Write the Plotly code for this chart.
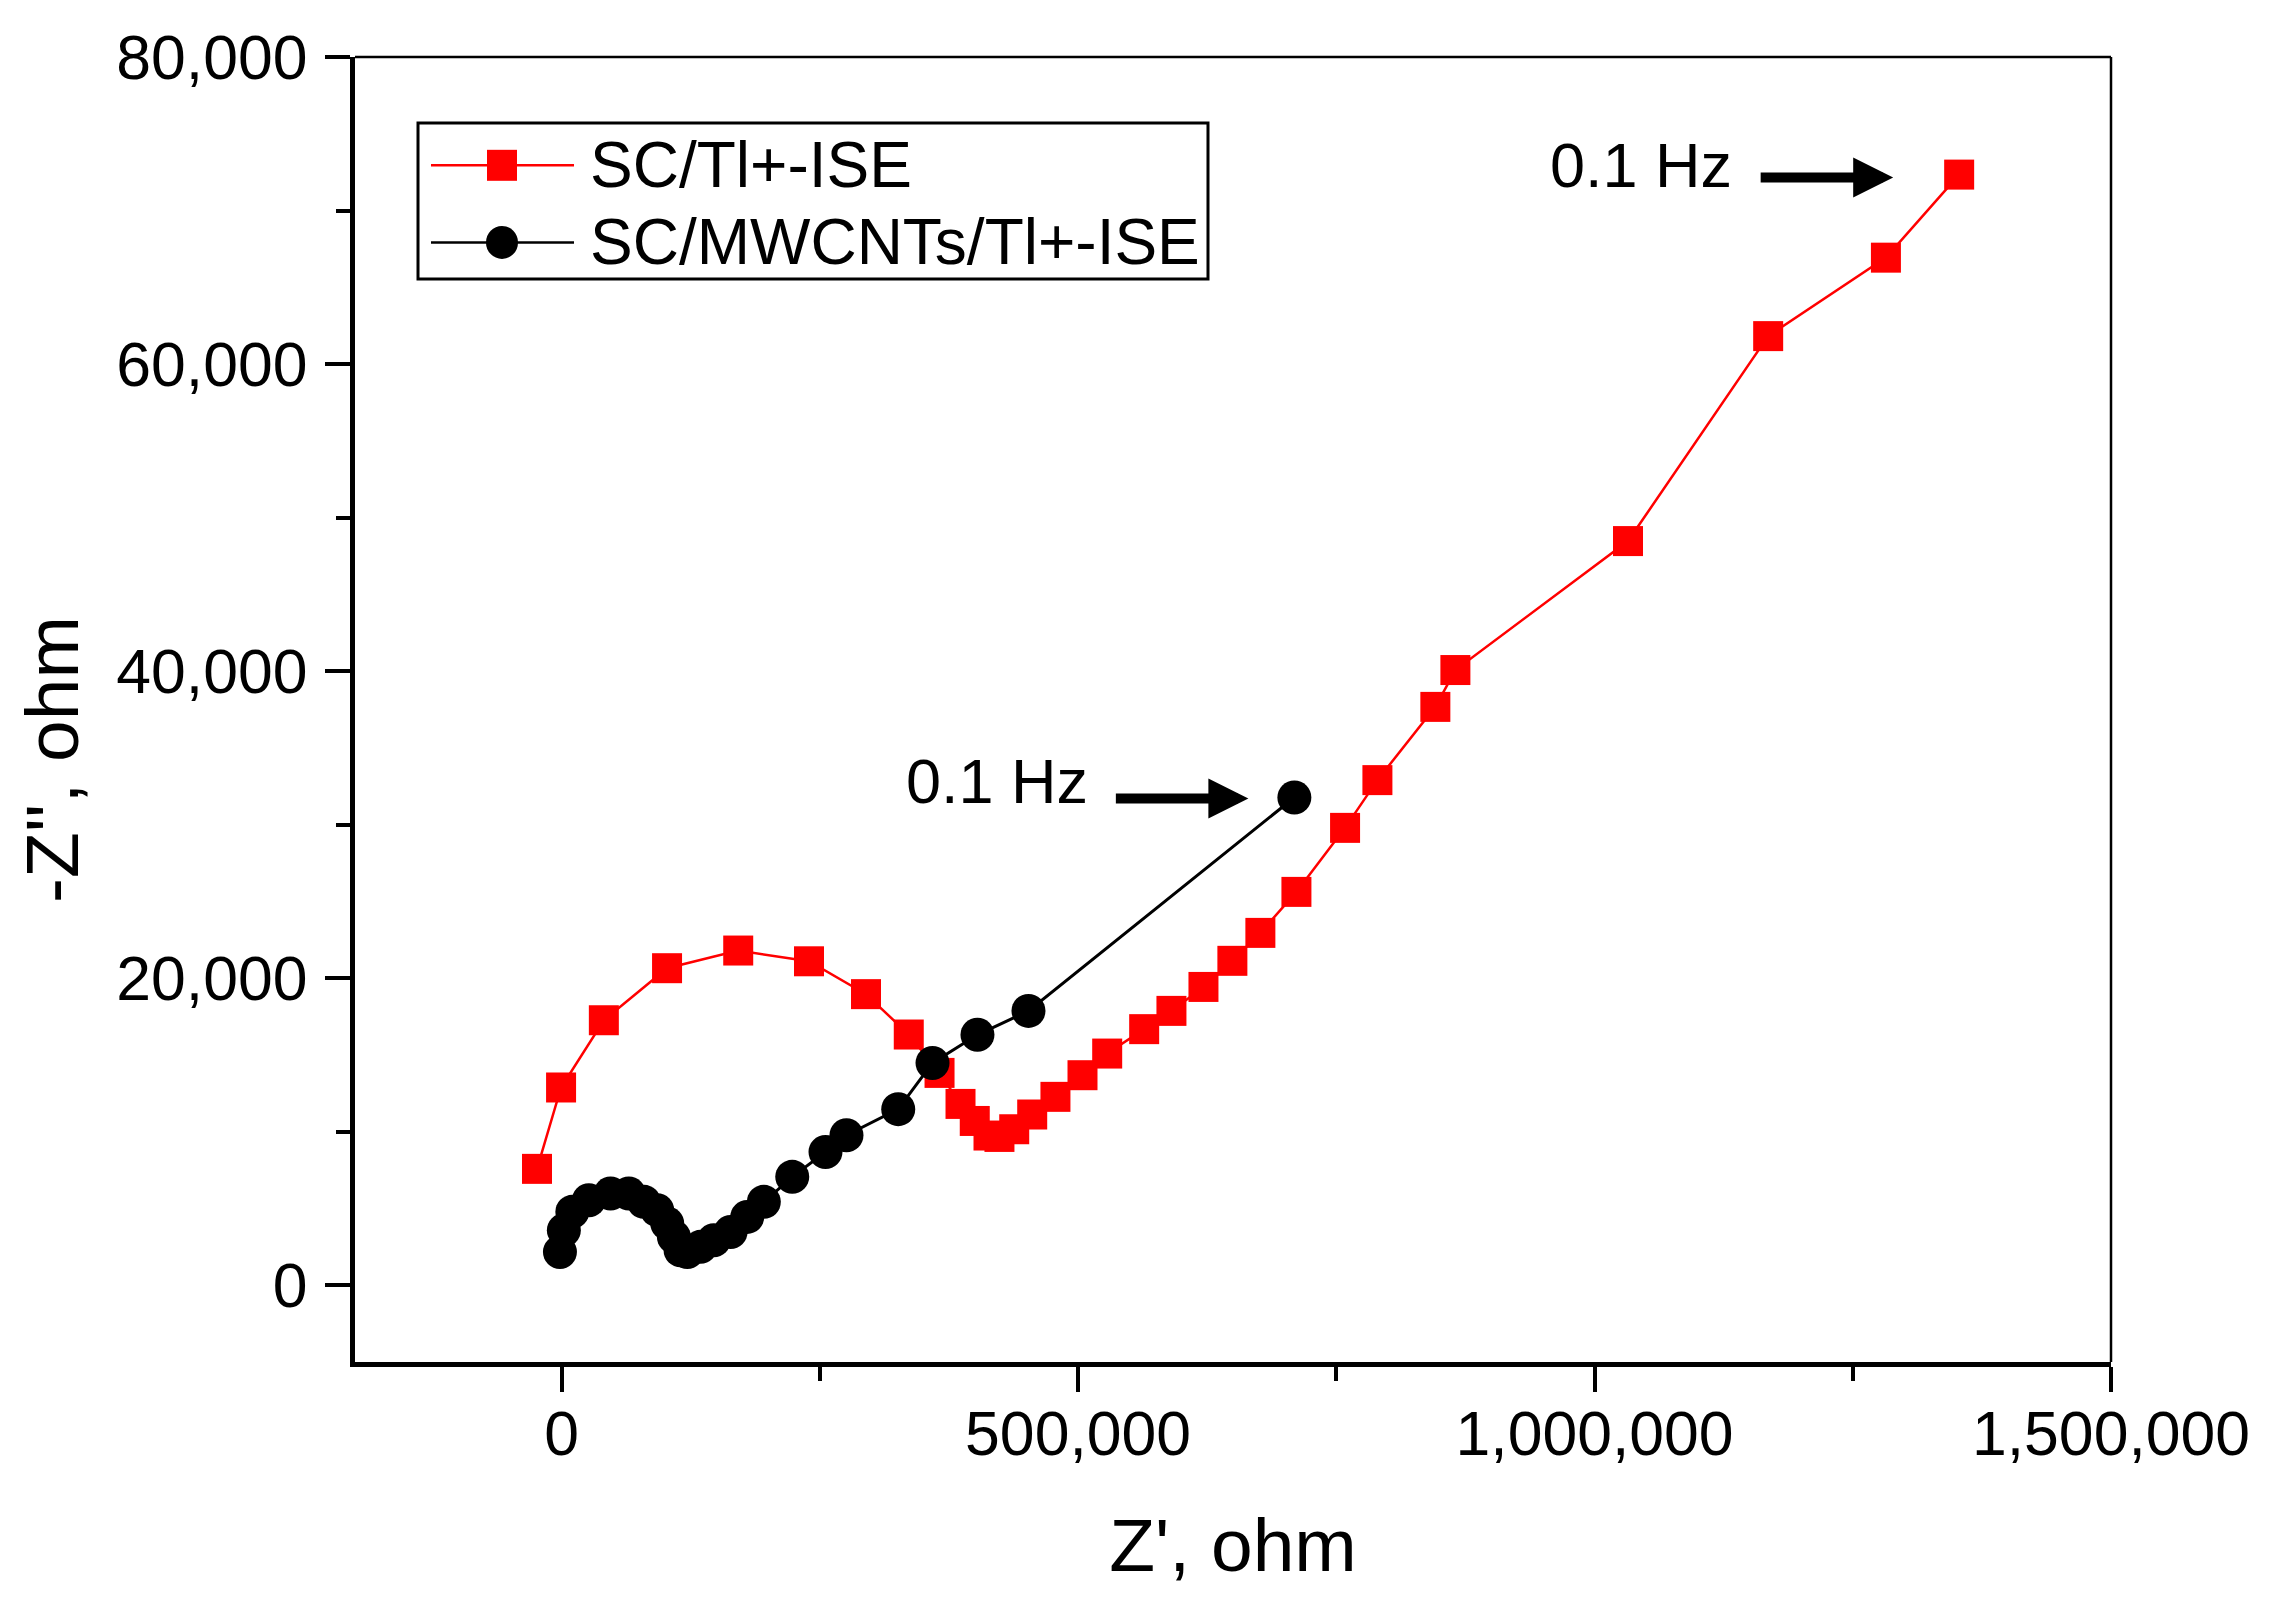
import plotly.graph_objects as go

# ---- data (kilo-ohm, converted to ohm below) ----
sc_x_k = [-23.8, -0.5, 40.9, 102.1, 171.0, 239.5, 294.7, 336.1, 365.9, 386.2, 400.0,
          413.3, 423.9, 438.2, 455.6, 478.1, 504.3, 528.2, 564.0, 590.4, 621.4, 649.4,
          676.5, 711.4, 758.5, 789.8, 845.9, 865.3, 1032.4, 1168.1, 1282.1, 1353.0]
sc_y_k = [7.58, 12.88, 17.26, 20.65, 21.8, 21.1, 18.96, 16.33, 13.83, 11.81, 10.70,
          9.75, 9.66, 10.16, 11.12, 12.27, 13.68, 15.09, 16.68, 17.87, 19.43, 21.13,
          22.95, 25.62, 29.79, 32.90, 37.67, 40.07, 48.47, 61.82, 66.93, 72.34]

mw_x_k = [-1.6, 2.2, 10.4, 26.4, 47.4, 65.1, 79.7, 92.6, 102.3, 108.7, 115.2, 121.7,
          134.5, 147.4, 163.6, 179.7, 195.8, 223.3, 255.5, 275.8, 325.9, 359.1, 402.6,
          452.0, 709.4]
mw_y_k = [2.17, 3.58, 4.78, 5.54, 5.97, 5.97, 5.43, 4.89, 4.02, 3.15, 2.28, 2.17,
          2.50, 2.93, 3.47, 4.45, 5.43, 7.06, 8.68, 9.77, 11.47, 14.48, 16.31,
          17.87, 31.77]

sc_x = [v * 1000 for v in sc_x_k]
sc_y = [v * 1000 for v in sc_y_k]
mw_x = [v * 1000 for v in mw_x_k]
mw_y = [v * 1000 for v in mw_y_k]

series_names = ["SC/Tl+-ISE", "SC/MWCNTs/Tl+-ISE"]
series_colors = ["#ff0000", "#000000"]

x_tickvals = [0, 500000, 1000000, 1500000]
x_ticktext = ["0", "500,000", "1,000,000", "1,500,000"]
y_tickvals = [0, 20000, 40000, 60000, 80000]
y_ticktext = ["0", "20,000", "40,000", "60,000", "80,000"]

FONT = "Liberation Sans, Arial, sans-serif"

fig = go.Figure()
fig.add_trace(go.Scatter(
    x=sc_x, y=sc_y, mode="lines+markers", name=series_names[0],
    line=dict(color=series_colors[0], width=2.5),
    marker=dict(symbol="square", size=30, color=series_colors[0], line=dict(width=0)),
))
fig.add_trace(go.Scatter(
    x=mw_x, y=mw_y, mode="lines+markers", name=series_names[1],
    line=dict(color=series_colors[1], width=3),
    marker=dict(symbol="circle", size=34, color=series_colors[1], line=dict(width=0)),
))

fig.update_xaxes(
    range=[-200000, 1500000], showgrid=False, zeroline=False,
    showline=True, linecolor="black", linewidth=5,
    ticks="outside", ticklen=25, tickwidth=4, tickcolor="black",
    tickvals=x_tickvals, ticktext=x_ticktext,
    tickfont=dict(family=FONT, size=62.5, color="black"),
    ticklabelstandoff=-12,
    minor=dict(ticks="outside", ticklen=14, tickwidth=4, tickcolor="black",
               tick0=0, dtick=250000, showgrid=False),
    title=dict(text="Z', ohm", font=dict(family=FONT, size=75, color="black"), standoff=53),
)
fig.update_yaxes(
    range=[-5000, 80000], showgrid=False, zeroline=False,
    showline=True, linecolor="black", linewidth=5,
    ticks="outside", ticklen=25, tickwidth=4, tickcolor="black",
    tickvals=y_tickvals, ticktext=y_ticktext,
    tickfont=dict(family=FONT, size=62.5, color="black"),
    ticklabelstandoff=5,
    minor=dict(ticks="outside", ticklen=14, tickwidth=4, tickcolor="black",
               tick0=0, dtick=10000, showgrid=False),
)

# top and right frame lines
fig.add_shape(type="line", xref="paper", yref="paper", x0=0, x1=1, y0=1, y1=1,
              line=dict(color="black", width=2.5))
fig.add_shape(type="line", xref="paper", yref="paper", x0=1, x1=1, y0=0, y1=1,
              line=dict(color="black", width=2.5))

# y title
fig.add_annotation(text="-Z'', ohm", xref="paper", yref="paper", x=0, y=0.4613,
                   xanchor="center", yanchor="middle",
                   xshift=-303, textangle=-90, showarrow=False,
                   font=dict(family=FONT, size=75, color="black"))

# legend (drawn as a framed box with long line symbols)
leg_box = dict(x0=0.03588, x1=0.48576, y0=0.82989, y1=0.94943)
leg_rows = [0.9170, 0.8579]
fig.add_shape(type="rect", xref="paper", yref="paper", **leg_box,
              line=dict(color="black", width=3), fillcolor="white", layer="above")
for i, ry in enumerate(leg_rows):
    fig.add_shape(type="line", xref="paper", yref="paper", x0=0.04328, x1=0.12472,
                  y0=ry, y1=ry, line=dict(color=series_colors[i], width=2.5))
    half = 15.5 if i == 0 else 16.5
    fig.add_shape(type="rect" if i == 0 else "circle", xref="paper", yref="paper",
                  xsizemode="pixel", ysizemode="pixel", xanchor=0.08371, yanchor=ry,
                  x0=-half + 0.5, x1=half - 0.5, y0=-half, y1=half,
                  line=dict(width=0), fillcolor=series_colors[i])
    fig.add_annotation(text=series_names[i], xref="paper", yref="paper", x=0.1327, y=ry,
                       xanchor="left", yanchor="middle", showarrow=False,
                       font=dict(family=FONT, size=64, color="black"))

# 0.1 Hz labels and arrows (anchored on the last point of each series)
for lx, ly, txt_shift, tip_shift in [
    (sc_x[-1], sc_y[-1], (-225, 10), (-66, -3)),
    (mw_x[-1], mw_y[-1], (-204, 16), (-46, -1)),
]:
    fig.add_annotation(x=lx, y=ly, text="0.1 Hz", showarrow=False, xanchor="right",
                       xshift=txt_shift[0], yshift=txt_shift[1],
                       font=dict(family=FONT, size=63, color="black"))
    fig.add_annotation(x=lx, y=ly, text="", showarrow=True, xshift=tip_shift[0],
                       yshift=tip_shift[1], ax=-134, ay=0, arrowhead=2, arrowsize=0.8,
                       arrowwidth=10, arrowcolor="black")

fig.update_layout(
    width=2274, height=1599,
    margin=dict(l=347, r=171, t=49, b=245),
    paper_bgcolor="white", plot_bgcolor="white",
    font=dict(family=FONT, color="black"),
    showlegend=False,
)

fig.write_html("out.html")
